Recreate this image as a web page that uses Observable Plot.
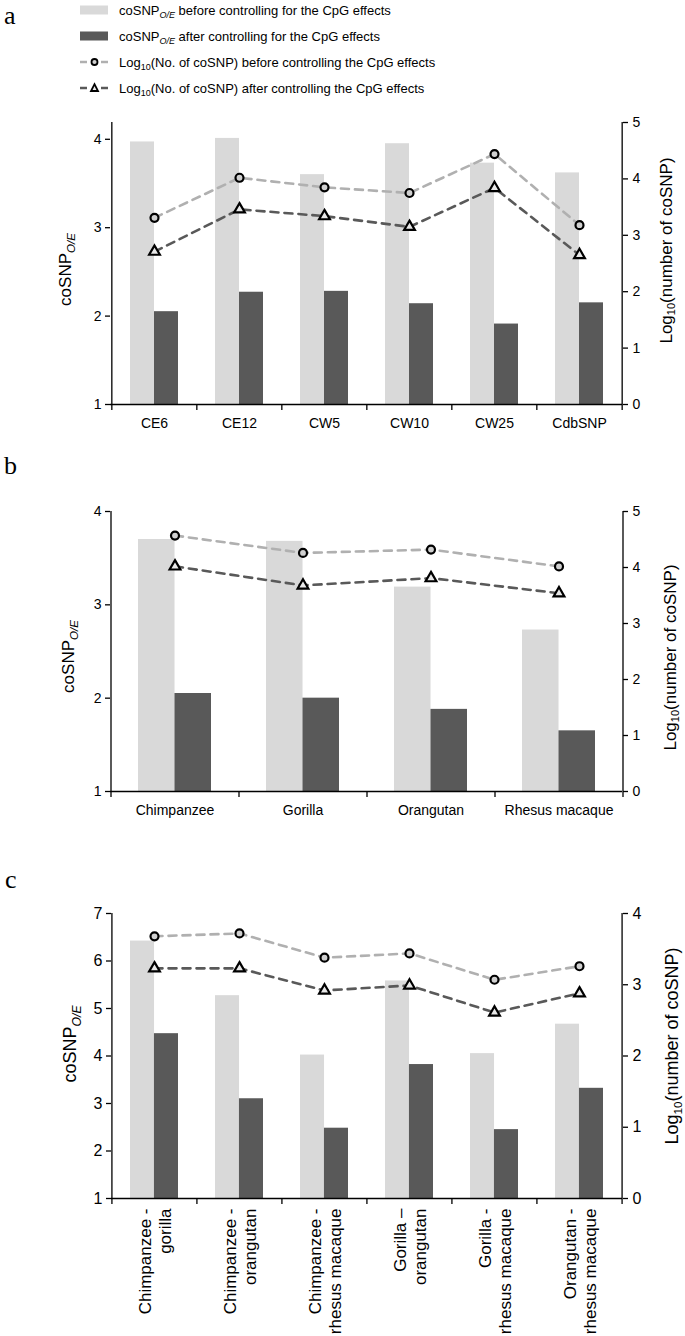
<!DOCTYPE html>
<html><head><meta charset="utf-8">
<script src="https://cdn.jsdelivr.net/npm/d3@7"></script>
<script src="https://cdn.jsdelivr.net/npm/@observablehq/plot@0.6"></script>
<style>
body{margin:0;background:#fff;font-family:"Liberation Sans",Arial,sans-serif;}
#wrap{position:relative;width:685px;height:1336px;overflow:hidden;background:#fff;}
.panel{position:absolute;left:0;}
.plabel{position:absolute;font-family:"Liberation Serif","Times New Roman",serif;font-size:26px;line-height:1.1;}
.lrow{position:absolute;left:80px;height:20px;display:flex;align-items:center;font-size:13px;white-space:nowrap;color:#000;}
.lrow svg{margin-right:11px;flex:none;}
.sub{font-size:9px;position:relative;top:3px;}
</style></head><body><div id="wrap"></div>
<script>
// ---------- Data ----------
// Panel a
const catsA = ["CE6", "CE12", "CW5", "CW10", "CW25", "CdbSNP"];
const beforeA = [3.97, 4.01, 3.60, 3.95, 3.73, 3.62];
const afterA = [2.05, 2.27, 2.28, 2.14, 1.91, 2.15];
const logBeforeA = [3.31, 4.02, 3.85, 3.75, 4.44, 3.18];
const logAfterA = [2.71, 3.46, 3.34, 3.15, 3.84, 2.65];
const leftTicksA = [1, 2, 3, 4];
const rightTicksA = [0, 1, 2, 3, 4, 5];
// Panel b
const catsB = ["Chimpanzee", "Gorilla", "Orangutan", "Rhesus macaque"];
const beforeB = [3.70, 3.68, 3.19, 2.73];
const afterB = [2.05, 2.00, 1.88, 1.65];
const logBeforeB = [4.57, 4.26, 4.32, 4.02];
const logAfterB = [4.02, 3.68, 3.81, 3.54];
const leftTicksB = [1, 2, 3, 4];
const rightTicksB = [0, 1, 2, 3, 4, 5];
// Panel c
const catsC = ["Chimpanzee - gorilla", "Chimpanzee - orangutan", "Chimpanzee - rhesus macaque",
               "Gorilla \u2013 orangutan", "Gorilla - rhesus macaque", "Orangutan - rhesus macaque"];
const beforeC = [6.42, 5.27, 4.02, 5.58, 4.05, 4.67];
const afterC = [4.47, 3.10, 2.48, 3.82, 2.45, 3.32];
const logBeforeC = [3.68, 3.72, 3.38, 3.44, 3.07, 3.26];
const logAfterC = [3.23, 3.23, 2.92, 2.99, 2.61, 2.88];
const leftTicksC = [1, 2, 3, 4, 5, 6, 7];
const rightTicksC = [0, 1, 2, 3, 4];

// Legend labels
const legendItems = [
  {kind: "bar", color: "#d9d9d9", html: 'coSNP<span class="sub"><i>O/E</i></span> before controlling for the CpG effects'},
  {kind: "bar", color: "#595959", html: 'coSNP<span class="sub"><i>O/E</i></span> after controlling for the CpG effects'},
  {kind: "line", color: "#b0b0b0", symbol: "circle", html: 'Log<span class="sub">10</span>(No. of coSNP) before controlling the CpG effects'},
  {kind: "line", color: "#595959", symbol: "triangle", html: 'Log<span class="sub">10</span>(No. of coSNP) after controlling the CpG effects'}
];

const LIGHT = "#d9d9d9", DARK = "#595959", LINE_B = "#b0b0b0", LINE_A = "#595959";
const FONT = '"Liberation Sans", Arial, sans-serif';

function makePanel(c) {
  const n = c.cats.length;
  const step = (c.width - c.ml - c.mr) / n;
  const bw = step * (1 - c.pad);
  const toL = d3.scaleLinear(c.rDomain, c.lDomain);
  const rows = c.cats.map((cat, i) => ({cat, before: c.before[i], after: c.after[i], lb: c.logBefore[i], la: c.logAfter[i]}));
  const y0 = c.lDomain[0], y1 = c.lDomain[1];
  const last = c.cats[n - 1];
  const svg = Plot.plot({
    width: c.width, height: c.height,
    marginTop: c.mt, marginBottom: c.mb, marginLeft: c.ml, marginRight: c.mr,
    style: {fontFamily: FONT, fontSize: c.fs + "px", color: "#000", background: "transparent", overflow: "visible"},
    x: {type: "band", domain: c.cats, paddingInner: c.pad, paddingOuter: c.pad / 2, align: 0.5},
    y: {domain: c.lDomain},
    marks: [
      Plot.barY(rows, {x: "cat", y1: y0, y2: "before", fill: LIGHT, insetRight: bw / 2}),
      Plot.barY(rows, {x: "cat", y1: y0, y2: "after", fill: DARK, insetLeft: bw / 2}),
      // axis lines
      Plot.ruleY([y0], {stroke: "#000", strokeWidth: 1.3}),
      Plot.ruleX([c.cats[0]], {x: d => d, dx: -step / 2, y1: y0, y2: y1, stroke: "#000", strokeWidth: 1.3}),
      Plot.ruleX([last], {x: d => d, dx: step / 2, y1: y0, y2: y1, stroke: "#000", strokeWidth: 1.3}),
      // category boundary ticks
      Plot.ruleX(c.cats, {x: d => d, dx: -step / 2, y1: y0, y2: y0, insetBottom: -6, stroke: "#000", strokeWidth: 1.3}),
      Plot.ruleX([last], {x: d => d, dx: step / 2, y1: y0, y2: y0, insetBottom: -6, stroke: "#000", strokeWidth: 1.3}),
      // log lines
      Plot.lineY(rows, {x: "cat", y: d => toL(d.lb), stroke: LINE_B, strokeWidth: 2.6, strokeDasharray: "8,6"}),
      Plot.lineY(rows, {x: "cat", y: d => toL(d.la), stroke: LINE_A, strokeWidth: 2.6, strokeDasharray: "8,6"}),
      Plot.dot(rows, {x: "cat", y: d => toL(d.lb), symbol: "circle", r: 4, stroke: "#000", strokeWidth: 2.2, fill: "#d0d0d0"}),
      Plot.dot(rows, {x: "cat", y: d => toL(d.la), symbol: "triangle", r: 4, stroke: "#000", strokeWidth: 2.2, fill: "#e8e8e8"}),
      // axes
      Plot.axisY({ticks: c.lTicks, anchor: "left", tickSize: 5, tickPadding: 4, label: null, fontSize: c.fs, strokeWidth: 1.3,
                  tickFormat: d => String(d)}),
      Plot.axisY({ticks: c.rTicks.map(v => toL(v)), anchor: "right", tickSize: 5, tickPadding: 5, label: null, fontSize: c.fs, strokeWidth: 1.3,
                  tickFormat: v => String(Math.round(toL.invert(v)))}),
      Plot.axisX({anchor: "bottom", tickSize: 0, tickPadding: c.xPad, label: null, fontSize: c.xfs,
                  tickRotate: c.rot || 0, tickFormat: c.xfmt || (d => d), lineHeight: 1.2}),
      // axis titles
      Plot.text(["coSNPO/E"], {frameAnchor: "left", dx: -c.ltx, dy: c.lty, rotate: -90, textAnchor: "middle", fontSize: c.tfs}),
      Plot.text(["Log10(number of coSNP)"], {frameAnchor: "right", dx: c.rtx, dy: c.rty, rotate: -90, textAnchor: "middle", fontSize: c.tfs})
    ]
  });
  // subscripts in the axis titles
  svg.querySelectorAll("text").forEach(t => {
    if (t.textContent === "coSNPO/E") {
      t.textContent = "";
      const a = document.createElementNS("http://www.w3.org/2000/svg", "tspan"); a.textContent = "coSNP"; t.appendChild(a);
      const b = document.createElementNS("http://www.w3.org/2000/svg", "tspan"); b.textContent = "O/E";
      b.setAttribute("dy", "0.35em"); b.setAttribute("font-size", "0.68em"); b.setAttribute("font-style", "italic"); t.appendChild(b);
    } else if (t.textContent === "Log10(number of coSNP)") {
      t.textContent = "";
      const a = document.createElementNS("http://www.w3.org/2000/svg", "tspan"); a.textContent = "Log"; t.appendChild(a);
      const b = document.createElementNS("http://www.w3.org/2000/svg", "tspan"); b.textContent = "10";
      b.setAttribute("dy", "0.3em"); b.setAttribute("font-size", "0.65em"); t.appendChild(b);
      const d = document.createElementNS("http://www.w3.org/2000/svg", "tspan"); d.textContent = "(number of coSNP)";
      d.setAttribute("dy", "-0.2em"); t.appendChild(d);
    }
  });
  return svg;
}

const wrap = document.getElementById("wrap");

function place(el, top) { el.classList.add("panel"); el.style.top = top + "px"; wrap.appendChild(el); }

const splitLabel = d => d.replace(/ ([-\u2013]) /, " $1\n");

place(makePanel({
  cats: catsA, before: beforeA, after: afterA, logBefore: logBeforeA, logAfter: logAfterA,
  lDomain: [1, 4.19], rDomain: [0, 5], lTicks: leftTicksA, rTicks: rightTicksA,
  width: 685, height: 360, mt: 22, mb: 56, ml: 110, mr: 63, pad: 0.4375,
  fs: 14, xfs: 14, xPad: 12, tfs: 17, ltx: 45, lty: 6, rtx: 44, rty: -13
}), 100);

place(makePanel({
  cats: catsB, before: beforeB, after: afterB, logBefore: logBeforeB, logAfter: logAfterB,
  lDomain: [1, 4], rDomain: [0, 5], lTicks: leftTicksB, rTicks: rightTicksB,
  width: 685, height: 345, mt: 21, mb: 44, ml: 110, mr: 63, pad: 0.43,
  fs: 14, xfs: 14, xPad: 12, tfs: 17, ltx: 42, lty: 5, rtx: 48, rty: 6
}), 490);

place(makePanel({
  cats: catsC, before: beforeC, after: afterC, logBefore: logBeforeC, logAfter: logAfterC,
  lDomain: [1, 7], rDomain: [0, 4], lTicks: leftTicksC, rTicks: rightTicksC,
  width: 685, height: 456, mt: 33, mb: 138, ml: 111, mr: 63, pad: 0.4375,
  fs: 16, xfs: 17, xPad: 10, rot: -90, xfmt: splitLabel, tfs: 18, ltx: 41, lty: -12, rtx: 50, rty: -10
}), 880);

// Legend (HTML, above panel a)
const rowTops = [0, 26, 52, 78];
legendItems.forEach((it, i) => {
  const row = document.createElement("div");
  row.className = "lrow";
  row.style.top = rowTops[i] + "px";
  let sw;
  if (it.kind === "bar") {
    sw = `<svg width="28" height="14"><rect x="0" y="2.5" width="28" height="9" fill="${it.color}"/></svg>`;
  } else {
    const mk = it.symbol === "circle"
      ? `<circle cx="14.5" cy="7" r="3" fill="#d0d0d0" stroke="#000" stroke-width="1.8"/>`
      : `<path d="M14.5,3.2 L18,10 L11,10 Z" fill="#e8e8e8" stroke="#000" stroke-width="1.8"/>`;
    sw = `<svg width="28" height="14"><line x1="0" y1="7" x2="7" y2="7" stroke="${it.color}" stroke-width="2.5"/>` +
         `<line x1="21" y1="7" x2="28" y2="7" stroke="${it.color}" stroke-width="2.5"/>${mk}</svg>`;
  }
  row.innerHTML = sw + `<span>${it.html}</span>`;
  wrap.appendChild(row);
});

// Panel letters
[["a", 4, 2], ["b", 4, 452], ["c", 5, 866]].forEach(([t, x, y]) => {
  const d = document.createElement("div");
  d.className = "plabel"; d.textContent = t;
  d.style.left = x + "px"; d.style.top = y + "px";
  wrap.appendChild(d);
});
</script></body></html>
